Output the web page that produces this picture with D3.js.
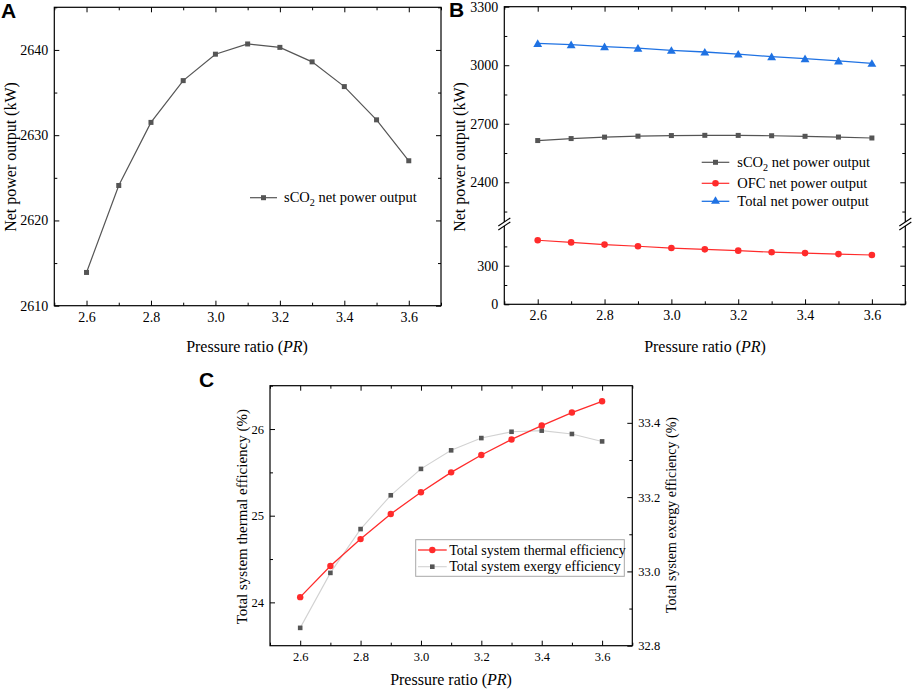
<!DOCTYPE html>
<html>
<head>
<meta charset="utf-8">
<script src="https://cdn.jsdelivr.net/npm/d3@7"></script>
<style>
  html, body { margin: 0; padding: 0; background: #fff; }
  svg { display: block; }
</style>
</head>
<body>
<svg id="chart" width="913" height="689"></svg>
<script>
// pressure ratio values shared by all three panels
const pr = [2.6, 2.7, 2.8, 2.9, 3.0, 3.1, 3.2, 3.3, 3.4, 3.5, 3.6];

// panel A/B series (kW)
const sco2Power = [2613.9, 2624.1, 2631.5, 2636.4, 2639.5, 2640.7, 2640.3, 2638.6, 2635.7, 2631.8, 2627.0];
const ofcPower = [498, 481, 464, 451, 437, 427, 417, 405, 398, 390, 383];
const totalPower = [3111.9, 3105.1, 3095.5, 3087.4, 3076.5, 3067.7, 3057.3, 3043.6, 3033.7, 3021.8, 3010.0];

// panel C series (%)
const thermalEff = [24.06, 24.42, 24.73, 25.02, 25.27, 25.50, 25.70, 25.88, 26.04, 26.19, 26.32];
const exergyEff = [32.848, 32.996, 33.114, 33.205, 33.276, 33.326, 33.359, 33.376, 33.379, 33.370, 33.350];

// ticks
const xTicks = [2.6, 2.8, 3.0, 3.2, 3.4, 3.6];
const xMinor = [2.5, 2.7, 2.9, 3.1, 3.3, 3.5, 3.7];
const aTicks = [2610, 2620, 2630, 2640];
const aMinor = [2615, 2625, 2635, 2645];
const bTicksHigh = [2400, 2700, 3000, 3300];
const bMinorHigh = [2250, 2550, 2850, 3150];
const bTicksLow = [0, 300];
const bMinorLow = [150, 450];
const cTicksLeft = [24, 25, 26];
const cMinorLeft = [24.5, 25.5, 26.5];
const cTicksRight = [32.8, 33.0, 33.2, 33.4];
const cMinorRight = [32.9, 33.1, 33.3];

const serif = '"Liberation Serif", "Times New Roman", serif';
const grey = '#555555';
const red = '#ff2b2b';
const blue = '#1f72e3';

const svg = d3.select('#chart');

function tickAxis(g, axisFn, scale, major, minor, transform, showLabels, fmt, fontSize) {
  const a = g.append('g').attr('transform', transform)
    .call(axisFn(scale).tickValues(major).tickSizeInner(-5).tickSizeOuter(0).tickPadding(6)
      .tickFormat(showLabels ? fmt : ''));
  a.select('.domain').remove();
  a.selectAll('line').attr('stroke', '#000').attr('stroke-width', 1);
  a.selectAll('text').attr('font-family', serif).attr('font-size', fontSize).attr('fill', '#000');
  const m = g.append('g').attr('transform', transform)
    .call(axisFn(scale).tickValues(minor).tickSizeInner(-3).tickSizeOuter(0).tickFormat(''));
  m.select('.domain').remove();
  m.selectAll('line').attr('stroke', '#000').attr('stroke-width', 1);
}

function frame(g, L, R, T, B) {
  g.append('rect')
    .attr('x', L).attr('y', T).attr('width', R - L).attr('height', B - T)
    .attr('fill', 'none').attr('stroke', '#000').attr('stroke-width', 1.2);
}

function drawLine(g, xs, ys, x, y, color, width) {
  g.append('path')
    .datum(xs.map((v, i) => [v, ys[i]]))
    .attr('fill', 'none').attr('stroke', color).attr('stroke-width', width)
    .attr('d', d3.line().x(d => x(d[0])).y(d => y(d[1])));
}

function squares(g, xs, ys, x, y, color, s) {
  g.selectAll(null).data(xs.map((v, i) => [v, ys[i]])).enter().append('rect')
    .attr('x', d => x(d[0]) - s / 2).attr('y', d => y(d[1]) - s / 2)
    .attr('width', s).attr('height', s).attr('fill', color);
}

function circles(g, xs, ys, x, y, color, r) {
  g.selectAll(null).data(xs.map((v, i) => [v, ys[i]])).enter().append('circle')
    .attr('cx', d => x(d[0])).attr('cy', d => y(d[1])).attr('r', r).attr('fill', color);
}

function triangles(g, xs, ys, x, y, color, size) {
  g.selectAll(null).data(xs.map((v, i) => [v, ys[i]])).enter().append('path')
    .attr('transform', d => `translate(${x(d[0])},${y(d[1]) + 1})`)
    .attr('d', d3.symbol(d3.symbolTriangle, size)).attr('fill', color);
}

function xTitle(g, cx, by, size) {
  const t = g.append('text').attr('x', cx).attr('y', by).attr('text-anchor', 'middle')
    .attr('font-family', serif).attr('font-size', size);
  t.append('tspan').text('Pressure ratio (');
  t.append('tspan').attr('font-style', 'italic').text('PR');
  t.append('tspan').text(')');
}

function yTitle(g, cx, cy, size, label) {
  g.append('text').attr('transform', `translate(${cx},${cy}) rotate(-90)`)
    .attr('text-anchor', 'middle').attr('dominant-baseline', 'central')
    .attr('font-family', serif).attr('font-size', size).text(label);
}

function panelLetter(g, x, y, label) {
  g.append('text').attr('x', x).attr('y', y)
    .attr('font-family', '"Liberation Sans", Arial, sans-serif').attr('font-weight', 'bold')
    .attr('font-size', 21).text(label);
}

function sco2Label(t) {
  t.append('tspan').text('sCO');
  t.append('tspan').attr('font-size', '0.7em').attr('dy', 4).text('2');
  t.append('tspan').attr('dy', -4).text(' net power output');
}

// ---------------- Panel A ----------------
{
  const L = 54.3, R = 441, T = 7.3, B = 305.7;
  const g = svg.append('g');
  const x = d3.scaleLinear().domain([2.5, 3.7]).range([L, R]);
  const y = d3.scaleLinear().domain([2610, 2645]).range([B, T]);

  tickAxis(g, d3.axisBottom, x, xTicks, xMinor, `translate(0,${B})`, true, d3.format('.1f'), 14);
  tickAxis(g, d3.axisTop, x, xTicks, xMinor, `translate(0,${T})`, false, null, 14);
  tickAxis(g, d3.axisLeft, y, aTicks, aMinor, `translate(${L},0)`, true, d3.format('d'), 14);
  tickAxis(g, d3.axisRight, y, aTicks, aMinor, `translate(${R},0)`, false, null, 14);
  frame(g, L, R, T, B);

  drawLine(g, pr, sco2Power, x, y, grey, 1.2);
  squares(g, pr, sco2Power, x, y, grey, 5);

  // legend
  g.append('line').attr('x1', 250).attr('x2', 277).attr('y1', 197.7).attr('y2', 197.7)
    .attr('stroke', grey).attr('stroke-width', 1.2);
  g.append('rect').attr('x', 261).attr('y', 195.2).attr('width', 5).attr('height', 5).attr('fill', grey);
  sco2Label(g.append('text').attr('x', 284).attr('y', 202)
    .attr('font-family', serif).attr('font-size', 14.5));

  yTitle(g, 10, 157, 16, 'Net power output (kW)');
  xTitle(g, 247, 352, 16);
  panelLetter(g, 1, 18, 'A');
}

// ---------------- Panel B (broken axis) ----------------
{
  const L = 504.3, R = 905.3, T = 6.7, B = 304.3;
  const breakY = 224;
  const g = svg.append('g');
  const x = d3.scaleLinear().domain([2.5, 3.7]).range([L, R]);
  const yHigh = d3.scaleLinear().domain([2200, 3300]).range([221.3, T]);
  const yLow = d3.scaleLinear().domain([0, 600]).range([B, 227.1]);

  tickAxis(g, d3.axisBottom, x, xTicks, xMinor, `translate(0,${B})`, true, d3.format('.1f'), 14);
  tickAxis(g, d3.axisTop, x, xTicks, xMinor, `translate(0,${T})`, false, null, 14);
  tickAxis(g, d3.axisLeft, yHigh, bTicksHigh, bMinorHigh, `translate(${L},0)`, true, d3.format('d'), 14);
  tickAxis(g, d3.axisRight, yHigh, bTicksHigh, bMinorHigh, `translate(${R},0)`, false, null, 14);
  tickAxis(g, d3.axisLeft, yLow, bTicksLow, bMinorLow, `translate(${L},0)`, true, d3.format('d'), 14);
  tickAxis(g, d3.axisRight, yLow, bTicksLow, bMinorLow, `translate(${R},0)`, false, null, 14);
  frame(g, L, R, T, B);

  // break marks on both side axes
  [L, R].forEach(ax => {
    g.append('rect').attr('x', ax - 3).attr('y', breakY - 2).attr('width', 6).attr('height', 4).attr('fill', '#fff');
    [-2, 2].forEach(off => {
      g.append('line')
        .attr('x1', ax - 6).attr('y1', breakY + off + 4)
        .attr('x2', ax + 6).attr('y2', breakY + off - 4)
        .attr('stroke', '#000').attr('stroke-width', 1.1);
    });
  });

  drawLine(g, pr, totalPower, x, yHigh, blue, 1.3);
  triangles(g, pr, totalPower, x, yHigh, blue, 34);
  drawLine(g, pr, sco2Power, x, yHigh, grey, 1.2);
  squares(g, pr, sco2Power, x, yHigh, grey, 5);
  drawLine(g, pr, ofcPower, x, yLow, red, 1.2);
  circles(g, pr, ofcPower, x, yLow, red, 3.3);

  // legend
  const lx1 = 701.7, lx2 = 729.3, mx = 715.5, tx = 737.3;
  const rows = [162.3, 183.3, 201.3];
  g.append('line').attr('x1', lx1).attr('x2', lx2).attr('y1', rows[0]).attr('y2', rows[0]).attr('stroke', grey).attr('stroke-width', 1.2);
  g.append('rect').attr('x', mx - 2.5).attr('y', rows[0] - 2.5).attr('width', 5).attr('height', 5).attr('fill', grey);
  g.append('line').attr('x1', lx1).attr('x2', lx2).attr('y1', rows[1]).attr('y2', rows[1]).attr('stroke', red).attr('stroke-width', 1.2);
  g.append('circle').attr('cx', mx).attr('cy', rows[1]).attr('r', 3.3).attr('fill', red);
  g.append('line').attr('x1', lx1).attr('x2', lx2).attr('y1', rows[2]).attr('y2', rows[2]).attr('stroke', blue).attr('stroke-width', 1.3);
  g.append('path').attr('transform', `translate(${mx},${rows[2]})`).attr('d', d3.symbol(d3.symbolTriangle, 34)).attr('fill', blue);

  sco2Label(g.append('text').attr('x', tx).attr('y', rows[0] + 4.5).attr('font-family', serif).attr('font-size', 14.5));
  g.append('text').attr('x', tx).attr('y', rows[1] + 4.5).attr('font-family', serif).attr('font-size', 14.5).text('OFC net power output');
  g.append('text').attr('x', tx).attr('y', rows[2] + 4.5).attr('font-family', serif).attr('font-size', 14.5).text('Total net power output');

  yTitle(g, 459, 157, 16, 'Net power output (kW)');
  xTitle(g, 705, 352, 16);
  panelLetter(g, 449, 17, 'B');
}

// ---------------- Panel C (dual axis) ----------------
{
  const L = 270, R = 632.3, T = 385.7, B = 645.7;
  const g = svg.append('g');
  const x = d3.scaleLinear().domain([2.5, 3.7]).range([L, R]);
  const yL = d3.scaleLinear().domain([23.5, 26.5]).range([B, T]);
  const yR = d3.scaleLinear().domain([32.8, 33.5]).range([B, T]);

  tickAxis(g, d3.axisBottom, x, xTicks, xMinor, `translate(0,${B})`, true, d3.format('.1f'), 12.5);
  tickAxis(g, d3.axisTop, x, xTicks, xMinor, `translate(0,${T})`, false, null, 12.5);
  tickAxis(g, d3.axisLeft, yL, cTicksLeft, cMinorLeft, `translate(${L},0)`, true, d3.format('d'), 12.5);
  tickAxis(g, d3.axisRight, yR, cTicksRight, cMinorRight, `translate(${R},0)`, true, d3.format('.1f'), 12.5);
  frame(g, L, R, T, B);

  drawLine(g, pr, exergyEff, x, yR, '#d2d2d2', 1.1);
  squares(g, pr, exergyEff, x, yR, grey, 4.6);
  drawLine(g, pr, thermalEff, x, yL, red, 1.3);
  circles(g, pr, thermalEff, x, yL, red, 3.2);

  // legend
  g.append('rect').attr('x', 415.7).attr('y', 539.7).attr('width', 208.6).attr('height', 36.6)
    .attr('fill', '#fff').attr('stroke', '#a8a8a8').attr('stroke-width', 1);
  g.append('line').attr('x1', 418).attr('x2', 446.7).attr('y1', 550).attr('y2', 550).attr('stroke', red).attr('stroke-width', 1.3);
  g.append('circle').attr('cx', 432.3).attr('cy', 550).attr('r', 3.2).attr('fill', red);
  g.append('line').attr('x1', 418).attr('x2', 446.7).attr('y1', 566.7).attr('y2', 566.7).attr('stroke', '#d2d2d2').attr('stroke-width', 1.1);
  g.append('rect').attr('x', 430).attr('y', 564.4).attr('width', 4.6).attr('height', 4.6).attr('fill', grey);
  g.append('text').attr('x', 449.3).attr('y', 554.5).attr('font-family', serif).attr('font-size', 14).text('Total system thermal efficiency');
  g.append('text').attr('x', 449.3).attr('y', 571.2).attr('font-family', serif).attr('font-size', 14).text('Total system exergy efficiency');

  yTitle(g, 241.7, 516.7, 15, 'Total system thermal efficiency (%)');
  yTitle(g, 671.7, 515, 14, 'Total system exergy efficiency (%)');
  xTitle(g, 451, 685, 16);
  panelLetter(g, 199, 387, 'C');
}
</script>
</body>
</html>
